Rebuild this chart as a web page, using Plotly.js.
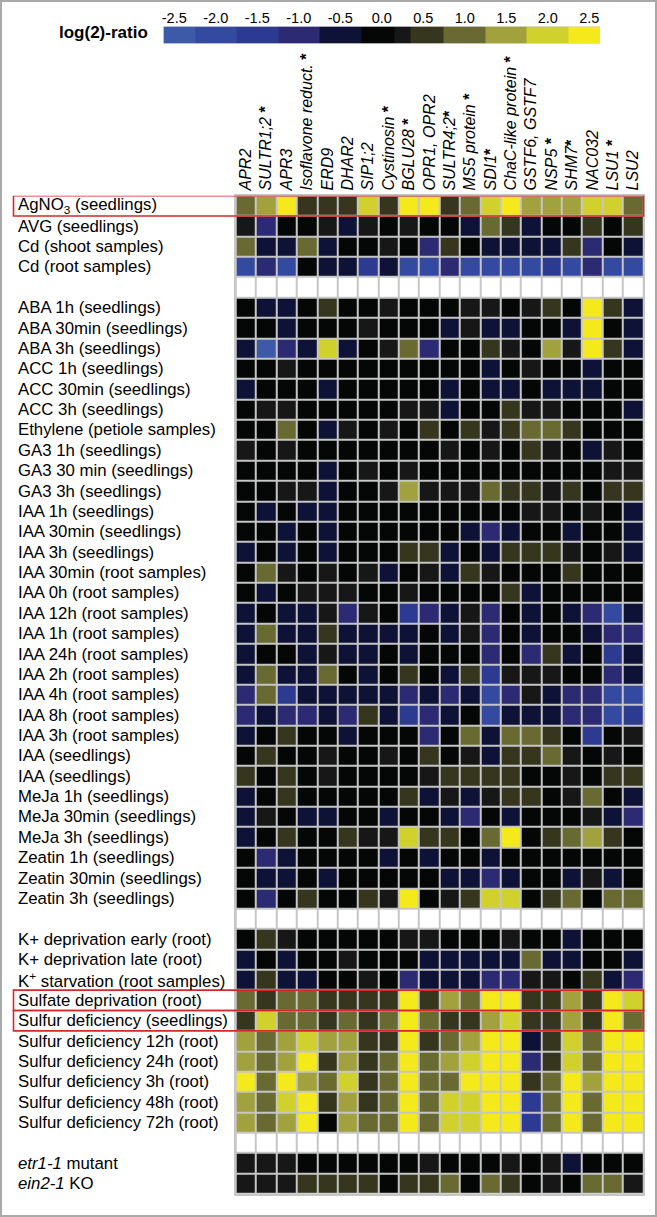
<!DOCTYPE html>
<html><head><meta charset="utf-8">
<script src="https://cdn.plot.ly/plotly-3.0.1.min.js"></script>
<style>
html,body{margin:0;padding:0;background:#fff;}
#wrap{position:relative;width:657px;height:1217px;}
#chart{width:657px;height:1217px;}
#frame{position:absolute;left:0;top:0;width:657px;height:1217px;box-sizing:border-box;border:2px solid #a9a9a9;pointer-events:none;}
</style>
</head><body>
<div id="wrap"><div id="chart"></div><div id="frame"></div></div>
<script>
// ---------- DATA ----------
const genes = ["APR2","SULTR1;2","APR3","Isoflavone reduct.","ERD9","DHAR2","SIP1;2","Cystinosin","BGLU28","OPR1, OPR2","SULTR4;2","MS5 protein","SDI1","ChaC-like protein","GSTF6, GSTF7","NSP5","SHM7","NAC032","LSU1","LSU2"];
const geneMark = [""," *",""," *","","",""," *"," *","","*"," *","*"," *",""," *","*",""," *",""];

const conditions = [
 "AgNO<sub>3</sub> (seedlings)","AVG (seedlings)","Cd (shoot samples)","Cd (root samples)","",
 "ABA 1h (seedlings)","ABA 30min (seedlings)","ABA 3h (seedlings)","ACC 1h (seedlings)","ACC 30min (seedlings)","ACC 3h (seedlings)",
 "Ethylene (petiole samples)","GA3 1h (seedlings)","GA3 30 min (seedlings)","GA3 3h (seedlings)",
 "IAA 1h (seedlings)","IAA 30min (seedlings)","IAA 3h (seedlings)","IAA 30min (root samples)","IAA 0h (root samples)",
 "IAA 12h (root samples)","IAA 1h (root samples)","IAA 24h (root samples)","IAA 2h (root samples)","IAA 4h (root samples)",
 "IAA 8h (root samples)","IAA 3h (root samples)","IAA (seedlings)","IAA (seedlings)",
 "MeJa 1h (seedlings)","MeJa 30min (seedlings)","MeJa 3h (seedlings)","Zeatin 1h (seedlings)","Zeatin 30min (seedlings)","Zeatin 3h (seedlings)","",
 "K+ deprivation early (root)","K+ deprivation late (root)","K<sup>+</sup> starvation (root samples)",
 "Sulfate deprivation (root)","Sulfur deficiency (seedlings)",
 "Sulfur deficiency 12h (root)","Sulfur deficiency 24h (root)","Sulfur deficiency 3h (root)","Sulfur deficiency 48h (root)","Sulfur deficiency 72h (root)","",
 "<i>etr1-1</i> mutant","<i>ein2-1</i> KO"
];

const highlightedRows = ["AgNO<sub>3</sub> (seedlings)","Sulfate deprivation (root)","Sulfur deficiency (seedlings)"];

// log2-ratios (null = spacer row)
const values = [
 [1,1.5,2.5,0.5,0.5,0.5,2,0.5,2.5,2.5,0.5,1,2,2.5,1.5,1.5,1.5,2,2,1],
 [0.2,-1,0,0,0.2,-0.5,0.2,0,0.2,0,0,-0.5,1,0.5,-0.5,0,0,0.5,0,0.5],
 [1,-0.5,-0.5,1,-0.5,0,0,0.2,0,-1,0.5,0,-0.5,-0.5,-0.5,-0.5,0.5,-1,0,-0.5],
 [-2,-1,-2,0,-0.5,-0.5,-1.5,-0.5,-2,-2,-1,-2,-2,-2,-2,-1.5,-2,-1,-2,-2],
 null,
 [0,-0.5,-0.5,0,0.5,0,0,0.2,0,0,0,0.2,0.2,0,0.2,0.5,0,2.5,0.5,-0.5],
 [0,0,-0.5,0,0,0,0.2,0,0,0,-0.5,0.2,-0.5,-0.5,0,0,-0.5,2.5,0,-0.5],
 [-0.5,-2.5,-1,-0.5,2,-0.5,0,0.2,1,-1,0,0,0.5,0.2,0,1.5,0.2,2.5,0.5,-0.5],
 [0,0,0.2,0,0,0,0,0,0,0,0,0,-0.5,0,0.2,0,0,-0.5,0,0],
 [-0.5,0,0,0,-0.5,0,0,0,0,0,-0.5,0,-0.5,-0.5,0,-0.5,-0.5,-0.5,0,0],
 [0,0.2,0.2,0,0,0,0,0,0.2,0.2,-0.5,0,0,0.5,0.2,0.2,0,0,0,-0.5],
 [0,0,1,0,-0.5,0.2,0,0.2,0,0.5,0,0.5,0.2,0.5,1,1,0.5,0,0,0],
 [0.2,0,0.2,0,0,0,0,0,0,0,0.2,0,0.2,0,0.5,0.2,0,-0.5,0.2,0],
 [0,0,0,0,-0.5,0,0.2,0,0.2,0,0,0,0,0,0,0,0,0,0.2,0.2],
 [0,0,0.2,0.2,-0.5,0,0,0.2,1.5,0.2,0.2,0.2,1,0.5,0.5,0.2,0.5,0,0.5,0.5],
 [0,-0.5,0,-0.5,-0.5,0,0,0,0,0,0,0,0,0,0.2,0.2,0,0.2,0,-0.5],
 [0,0,-0.5,0,-0.5,0,0,0,0,0,0,-0.5,-1,-0.5,0,0,-0.5,0,0,-0.5],
 [-0.5,0,-0.5,0,-0.5,0,0,0,0.5,0.5,-0.5,0,-0.5,0.5,0.5,0.5,0.2,0,0.2,-0.5],
 [0,1,0.2,0,0.2,0,0.2,-0.5,0,0.2,-0.5,0.5,0.2,0,0,0,0.5,0,0,0],
 [0,-0.5,0,0.2,0.2,0.2,0,0,0.2,0,0,0,0,0.5,-0.5,0,0,0,0,0],
 [-0.5,0,-0.5,-0.5,0.2,-1,0.2,0,-1.5,-1,-0.5,0.2,-1,0,-0.5,0,-0.5,-1,-2,-0.5],
 [-0.5,1,-0.5,-0.5,0.5,-0.5,-0.5,-0.5,-0.5,0,-0.5,0.2,-1,0,-0.5,0,0,-0.5,-1,-1],
 [-0.5,0,0,-0.5,0.2,-0.5,-0.5,0,-0.5,0,0,0,-1,0,-1,0.5,-0.5,0,-1.5,-0.5],
 [-0.5,1,-0.5,-0.5,1,0,-0.5,0,0.5,0,-0.5,0.5,-1.5,0.2,0.2,0.2,0,0,-1,-0.5],
 [-1,1,-1.5,-0.5,-0.5,-0.5,-0.5,-0.5,-1,-0.5,-1,-0.5,-2,-1,0.2,-0.5,-1,-1,-2,-2],
 [-1,-0.5,-1,-1,-0.5,-1,0.5,-0.5,-1.5,-1,-0.5,0,-2,-0.5,-0.5,-0.5,-1,-1,-2,-1.5],
 [-0.5,0,0.5,0,0,-0.5,0,0,0,-1,0,1,-0.5,1,1,0.5,0,-1.5,0,0.2],
 [0,0.5,0,0,0.2,0,0,0.2,0,0.5,0,0.2,-0.5,0.5,0.5,1,0.2,0,0.2,0],
 [0.5,0,0.5,0,0.2,0,0,0,0,0.2,0.5,0.5,0.5,0.5,0,0,0.2,0,0.5,0.5],
 [-0.5,0,0.5,0,0,0,0,0,0.5,-0.5,0.2,-0.5,0.2,0.5,0.5,0,0.2,1,0,-0.5],
 [-0.5,0.2,0,-0.5,-0.5,0,0,-0.5,0,0,-0.5,-1,0,-0.5,0,0,0,0.2,-0.5,-1],
 [-0.5,0,0.5,0,0,0.5,0.2,0.2,2,0.5,0.5,0,1,2.5,0,0.5,1,1.5,0.5,0],
 [0,-1,-0.5,0,0,0,0,-0.5,0,-0.5,0,0,-0.5,0,0,0,0,0,0,0],
 [0,-0.5,-0.5,0,-0.5,0,0,0,0,0,-0.5,-0.5,-1,-0.5,0,0,-0.5,0.2,-0.5,0],
 [0,-1,0,0.5,0,0,0.5,0.2,2.5,0,0.2,0.5,2,2,0,0.5,1,0,1,1],
 null,
 [0,0.5,0.2,0,0,0,0,0,0.2,0.2,0,0,0,0.2,0,0,-0.5,0,0,0],
 [-0.5,0,-0.5,0,0,0.2,0,0,0,-0.5,-0.5,-0.5,-0.5,-0.5,1,-0.5,-0.5,0,0,-0.5],
 [-0.5,0.5,-0.5,-0.5,0,0,0.2,0,-1,-0.5,-0.5,-0.5,-1,-1,0.2,0.2,0,0.5,-0.5,-1],
 [1,0.5,1,1,0.5,0.5,0.5,0.5,2.5,0.5,1.5,1,2.5,2.5,0.5,0.5,1.5,0.5,2.5,2],
 [0.5,2,1,1,0.5,1,0.5,1,2.5,1,0.5,0.5,1.5,2,0.5,0.5,1.5,0.5,2.5,1],
 [1.5,1,1.5,2,1.5,1.5,0.5,0.5,2.5,0.5,1,1.5,2.5,2.5,-0.5,0.5,2,1,2.5,2.5],
 [1.5,1,1.5,2.5,0.5,1.5,0.5,1,2.5,1,1.5,2,2.5,2.5,-1,0.5,2,1,2.5,2.5],
 [2.5,1,2.5,1.5,1,2,0.5,1,2.5,1,1,2.5,2.5,2.5,0.5,1,2.5,1.5,2.5,2.5],
 [1.5,1,2,2.5,0.5,1.5,0.5,1,2.5,1,2,2,2.5,2.5,-1.5,1,2.5,1,2.5,2.5],
 [1.5,1,1.5,2.5,0,1.5,1,1,2.5,1,2,2,2.5,2.5,-1.5,1,2.5,1,2.5,2.5],
 null,
 [0.2,0.2,0.2,0,0,0,0,0,0,0.2,0,0,0,0.2,0,0.2,-0.5,0,0,0],
 [0.2,0.2,0.2,0.5,0.5,0.5,0.5,0,0.5,0.5,1,0,1,0.5,0,0.2,0,1,1,0.2]
];

// colour key (bins of log2-ratio)
const binEdges  = [-2.63,-2.25,-1.75,-1.25,-0.75,-0.25,0.15,0.35,0.75,1.25,1.75,2.25,2.63];
const binValues = [-2.5,-2.0,-1.5,-1.0,-0.5,0.0,0.2,0.5,1.0,1.5,2.0,2.5];
const binColors = ["#3c5aa8","#3449a0","#2d3a92","#2b2a72","#0e1236","#050707","#171717","#36361e","#696a32","#a1a13e","#d1d12e","#f3e91b"];
const keyTicks  = [-2.5,-2.0,-1.5,-1.0,-0.5,0.0,0.5,1.0,1.5,2.0,2.5];

// ---------- BUILD ----------
const W = 657, H = 1217;
const fx = p => p / W;
const fy = p => 1 - p / H;
const FONT = "Liberation Sans, Arial, Helvetica, sans-serif";
const zmin = binEdges[0], zmax = binEdges[binEdges.length-1];
const norm = v => (v - zmin) / (zmax - zmin);
const colorscale = [];
binColors.forEach((c, i) => {
  colorscale.push([norm(binEdges[i]), c]);
  colorscale.push([norm(binEdges[i+1]), c]);
});

const nRows = conditions.length, nCols = genes.length;
const xIdx = genes.map((g, i) => i);
const yIdx = conditions.map((c, i) => i);
const zMain = values.map(r => r ? r.slice() : genes.map(() => null));
const zBlank = values.map(r => r ? genes.map(() => null) : genes.map(() => 1));

const gridColor = "#c6c6c6";

const traces = [
  {type: "heatmap", x: xIdx, y: yIdx, z: zMain, colorscale: colorscale, zmin: zmin, zmax: zmax,
   xgap: 2, ygap: 2, showscale: false, hoverinfo: "skip", xaxis: "x", yaxis: "y"},
  {type: "heatmap", x: xIdx, y: yIdx, z: zBlank, colorscale: [[0,"#ffffff"],[1,"#ffffff"]], zmin: 0, zmax: 1,
   xgap: 2, ygap: 2, showscale: false, hoverinfo: "skip", xaxis: "x", yaxis: "y"},
  {type: "heatmap", x: binEdges, y: [0], z: [binValues], colorscale: colorscale, zmin: zmin, zmax: zmax,
   showscale: false, hoverinfo: "skip", xaxis: "x2", yaxis: "y2"}
];

const annotations = [];
conditions.forEach((c, i) => {
  if (!c) return;
  annotations.push({xref: "paper", yref: "y", x: fx(15.5), y: i, xanchor: "left", yanchor: "middle",
    text: c, showarrow: false, font: {family: FONT, size: 16.8, color: "#000"}});
});
annotations.push({xref: "paper", yref: "paper", x: fx(57), y: fy(32), xanchor: "left", yanchor: "middle",
  text: "<b>log(2)-ratio</b>", showarrow: false, font: {family: FONT, size: 17, color: "#000"}});

const shapes = highlightedRows.map(lbl => {
  const i = conditions.indexOf(lbl);
  return {type: "rect", xref: "paper", yref: "y", x0: fx(13.5), x1: fx(643.5), y0: i - 0.5, y1: i + 0.5,
    line: {color: "#d6282b", width: 1.6}, layer: "above"};
});

const layout = {
  width: W, height: H, margin: {l: 0, r: 0, t: 0, b: 0},
  paper_bgcolor: "#ffffff", plot_bgcolor: gridColor,
  showlegend: false,
  xaxis: {domain: [fx(235.7), fx(643.3)], range: [-0.5, nCols - 0.5], side: "top", anchor: "y",
    tickmode: "array", tickvals: xIdx,
    ticktext: genes.map((g, i) => "<i>" + g + "</i>" + geneMark[i].replace("*", "<b>*</b>")),
    tickangle: -90, ticks: "", tickfont: {family: FONT, size: 16, color: "#000"},
    showgrid: false, zeroline: false, showline: true, linecolor: gridColor, linewidth: 2, mirror: true, fixedrange: true},
  yaxis: {domain: [fy(1193.8), fy(195.7)], range: [nRows - 0.5, -0.5], anchor: "x",
    showticklabels: false, ticks: "", showgrid: false, zeroline: false,
    showline: true, linecolor: gridColor, linewidth: 2, mirror: true, fixedrange: true},
  xaxis2: {domain: [fx(163.5), fx(600)], range: [binEdges[0], binEdges[binEdges.length-1]], anchor: "y2", side: "top",
    tickmode: "array", tickvals: keyTicks, ticktext: keyTicks.map(v => v.toFixed(1)),
    ticks: "", tickfont: {family: FONT, size: 14.5, color: "#000"},
    showgrid: false, zeroline: false, showline: false, fixedrange: true},
  yaxis2: {domain: [fy(43.5), fy(26.5)], range: [-0.5, 0.5], anchor: "x2", visible: false, fixedrange: true},
  annotations: annotations,
  shapes: shapes
};

Plotly.newPlot("chart", traces, layout, {staticPlot: true, displayModeBar: false});
</script>
</body></html>
